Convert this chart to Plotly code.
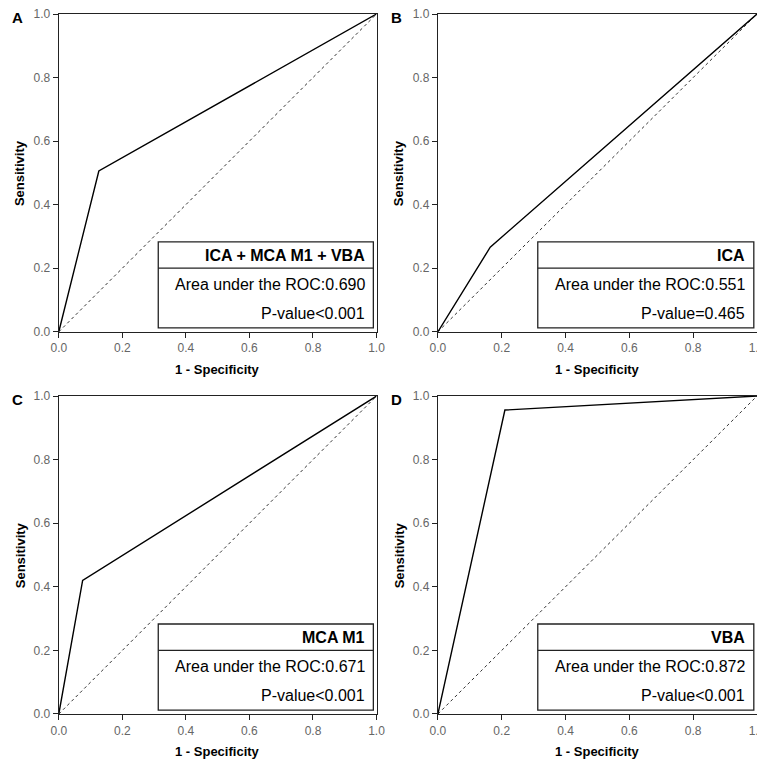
import plotly.graph_objects as go

# ROC points: (0,0) -> cut point -> (1,1)
panels = ["A", "B", "C", "D"]
names = ["ICA + MCA M1 + VBA", "ICA", "MCA M1", "VBA"]
fpr = [[0.0, 0.126, 1.0], [0.0, 0.164, 1.0], [0.0, 0.075, 1.0], [0.0, 0.21, 1.0]]
tpr = [[0.0, 0.506, 1.0], [0.0, 0.266, 1.0], [0.0, 0.42, 1.0], [0.0, 0.956, 1.0]]
auc = ["0.690", "0.551", "0.671", "0.872"]
pval = ["P-value<0.001", "P-value=0.465", "P-value<0.001", "P-value<0.001"]
ticks = [0.0, 0.2, 0.4, 0.6, 0.8, 1.0]
tick_text = ["0.0", "0.2", "0.4", "0.6", "0.8", "1.0"]

# the page puts the figure 8px in from the window corner
OFF = 8
W, H = 765 - OFF, 760 - OFF
# plot areas as measured on the reference (left, right, top, bottom)
boxes = [(51.3, 372.3, 4.7, 326), (434.3, 756.7, 4.7, 326),
         (51.3, 372.3, 391, 712.5), (434.3, 756.7, 391, 712.5)]

# squeeze the reference layout a little so it fits inside the shifted figure
SX = (757 - 11) / (756.7 - 3)
SY = (758 - 14) / (757 - 4.7)


def px(v):
    return (3 + (v - 3) * SX) / W


def py(v):
    return 1 - (6 + (v - 4.7) * SY) / H


FONT = "Liberation Sans, Arial, sans-serif"

fig = go.Figure()
layout = {}
annotations = []
shapes = []

for i in range(4):
    n = "" if i == 0 else str(i + 1)
    xa, ya = "x" + n, "y" + n
    l, r, t, b = boxes[i]

    # reference diagonal
    fig.add_trace(go.Scatter(x=[0, 1], y=[0, 1], mode="lines", xaxis=xa, yaxis=ya,
                             line=dict(color="#333333", width=1, dash="3px,3px"),
                             hoverinfo="skip", showlegend=False))
    fig.add_trace(go.Scatter(x=fpr[i], y=tpr[i], mode="lines", xaxis=xa, yaxis=ya,
                             line=dict(color="black", width=1.4),
                             name=names[i], showlegend=False))

    common = dict(range=[0, 1], tickvals=ticks, ticktext=tick_text, showgrid=False,
                  zeroline=False, showline=True, mirror=True, linecolor="#222222",
                  linewidth=1.3, ticks="outside", ticklen=5, tickcolor="#222222",
                  tickfont=dict(family=FONT, size=12, color="#666666"), fixedrange=True,
                  automargin=False, ticklabeloverflow="allow")
    layout["xaxis" + n] = dict(common, domain=[px(l), px(r)], anchor=ya)
    layout["yaxis" + n] = dict(common, domain=[py(b), py(t)], anchor=xa)

    # result box
    shapes.append(dict(type="rect", xref=xa, yref=ya, x0=0.313, x1=0.99, y0=0.012, y1=0.283,
                       line=dict(color="#222222", width=1.3), fillcolor="white", layer="above"))
    shapes.append(dict(type="line", xref=xa, yref=ya, x0=0.313, x1=0.99, y0=0.2, y1=0.2,
                       line=dict(color="#222222", width=1.3), layer="above"))
    annotations.append(dict(xref=xa, yref=ya, x=0.97, y=0.239, text="<b>" + names[i] + "</b>",
                            showarrow=False, xanchor="right", yanchor="middle",
                            font=dict(family=FONT, size=16, color="black")))
    annotations.append(dict(xref=xa, yref=ya, x=0.97, y=0.148,
                            text="Area under the ROC:" + auc[i],
                            showarrow=False, xanchor="right", yanchor="middle",
                            font=dict(family=FONT, size=16, color="black")))
    annotations.append(dict(xref=xa, yref=ya, x=0.97, y=0.058, text=pval[i],
                            showarrow=False, xanchor="right", yanchor="middle",
                            font=dict(family=FONT, size=16, color="black")))

    # axis titles
    annotations.append(dict(xref="paper", yref="paper", x=px((l + r) / 2), y=py(b + 38),
                            text="<b>1 - Specificity</b>", showarrow=False,
                            xanchor="center", yanchor="middle",
                            font=dict(family=FONT, size=13, color="black")))
    annotations.append(dict(xref="paper", yref="paper", x=px(l - 39), y=py((t + b) / 2),
                            text="<b>Sensitivity</b>", showarrow=False, textangle=-90,
                            xanchor="center", yanchor="middle",
                            font=dict(family=FONT, size=13, color="black")))
    # panel letter
    annotations.append(dict(xref="paper", yref="paper", x=px(l - 42), y=py(t + 3.5),
                            text="<b>" + panels[i] + "</b>", showarrow=False,
                            xanchor="center", yanchor="middle",
                            font=dict(family=FONT, size=15, color="black")))

fig.update_layout(width=W, height=H, margin=dict(l=0, r=0, t=0, b=0),
                  paper_bgcolor="white", plot_bgcolor="white",
                  annotations=annotations, shapes=shapes, **layout)

fig.write_html("out.html")
